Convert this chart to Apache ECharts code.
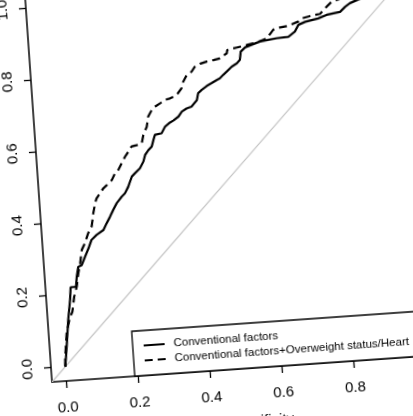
<!DOCTYPE html>
<html>
<head>
<meta charset="utf-8">
<script src="https://cdn.jsdelivr.net/npm/echarts@6/dist/echarts.min.js"></script>
<style>
html,body{margin:0;padding:0;width:413px;height:416px;overflow:hidden;background:#fff;}
#chart{position:absolute;left:-50px;top:-50px;width:520px;height:520px;transform:rotate(-4deg);transform-origin:102px 432px;}
</style>
</head>
<body>
<div id="chart"></div>
<script>
// Tick values (both axes)
const tickValues = [0, 0.2, 0.4, 0.6, 0.8, 1.0];
const xName = '1 - Specificity';
const yName = 'Sensitivity';
const seriesNames = ['Conventional factors', 'Conventional factors+Overweight status/Heart'];

// Conventional factors (solid)
const convFPR = [0,0.0075,0.017,0.026,0.030,0.045,0.049,0.055,0.065,0.076,0.087,0.097,0.112,0.132,0.142,0.153,0.163,0.174,0.189,0.199,0.209,0.221,0.230,0.245,0.256,0.262,0.272,0.282,0.288,0.293,0.312,0.323,0.337,0.347,0.362,0.372,0.386,0.400,0.416,0.421,0.431,0.446,0.460,0.475,0.484,0.494,0.504,0.519,0.534,0.543,0.547,0.560,0.602,0.649,0.682,0.701,0.712,0.731,0.768,0.792,0.830,0.845,0.859,0.878,0.92,0.96,1];
const convTPR = [0,0.055,0.129,0.184,0.219,0.219,0.247,0.274,0.278,0.301,0.323,0.346,0.359,0.371,0.389,0.407,0.425,0.443,0.460,0.469,0.486,0.514,0.522,0.535,0.553,0.571,0.584,0.593,0.611,0.625,0.628,0.646,0.656,0.661,0.671,0.684,0.692,0.696,0.713,0.732,0.740,0.750,0.757,0.765,0.769,0.778,0.786,0.799,0.807,0.816,0.839,0.850,0.863,0.869,0.871,0.884,0.902,0.909,0.916,0.924,0.930,0.943,0.952,0.959,0.975,0.99,1];

// Conventional factors + Overweight status/Heart (dashed)
const plusFPR = [0,0.001,0.010,0.022,0.030,0.038,0.047,0.054,0.061,0.068,0.078,0.089,0.100,0.107,0.114,0.119,0.130,0.140,0.150,0.165,0.175,0.185,0.195,0.206,0.216,0.226,0.241,0.255,0.261,0.272,0.278,0.289,0.299,0.313,0.328,0.342,0.361,0.376,0.382,0.393,0.407,0.417,0.432,0.451,0.470,0.488,0.508,0.510,0.537,0.565,0.598,0.622,0.641,0.651,0.684,0.712,0.722,0.746,0.774,0.794,0.809,0.85,0.9,1];
const plusTPR = [0,0.023,0.092,0.135,0.150,0.192,0.219,0.256,0.283,0.320,0.338,0.365,0.383,0.419,0.447,0.460,0.474,0.487,0.495,0.508,0.526,0.535,0.552,0.570,0.583,0.597,0.600,0.604,0.627,0.649,0.677,0.694,0.703,0.711,0.720,0.723,0.731,0.749,0.767,0.785,0.793,0.806,0.813,0.818,0.821,0.824,0.837,0.846,0.851,0.856,0.863,0.871,0.893,0.897,0.901,0.911,0.919,0.924,0.928,0.947,0.960,0.97,0.985,1];

// Reference diagonal (chance line) endpoints
const diagX = [-0.04, 1.04];
const diagY = [-0.04, 1.04];

const zip = (a, b) => a.map((v, i) => [v, b[i]]);
const font = 'Liberation Sans, Arial, Helvetica, sans-serif';

function axis(isY, name) {
  return {
    type: 'value', min: -0.04, max: 1.04,
    name: name, nameLocation: 'middle', nameGap: 46,
    nameTextStyle: {fontSize: 15, color: '#000', fontFamily: font},
    axisLine: {show: true, onZero: false, lineStyle: {color: '#000', width: 1.5}},
    axisTick: {show: true, customValues: tickValues, length: 7, lineStyle: {color: '#000', width: 1.3}},
    axisLabel: {customValues: tickValues, formatter: v => v.toFixed(1), margin: isY ? 16 : 19,
      fontSize: 15, color: '#000', fontFamily: font, rotate: isY ? 90 : 0},
    splitLine: {show: false}
  };
}

const chart = echarts.init(document.getElementById('chart'), null, {renderer: 'canvas'});
chart.setOption({
  animation: false,
  backgroundColor: '#fff',
  grid: {left: 102, top: 43.2, width: 388.8, height: 388.8},
  xAxis: axis(false, xName),
  yAxis: axis(true, yName),
  legend: {
    orient: 'vertical', left: 185, bottom: 88,
    itemWidth: 21, itemHeight: 14, itemGap: 3,
    padding: [9, 31, 9, 10],
    borderColor: '#000', borderWidth: 1.3, borderRadius: 0,
    backgroundColor: '#fff', selectedMode: false,
    itemStyle: {opacity: 0},
    textStyle: {fontSize: 11.5, color: '#000', fontFamily: font, padding: [0, 0, 0, 4]},
    data: seriesNames
  },
  series: [
    {name: 'diag', type: 'line', data: zip(diagX, diagY), symbol: 'none', silent: true,
     lineStyle: {color: '#c4c4c4', width: 1.2}, z: 1},
    {name: seriesNames[0], type: 'line', data: zip(convFPR, convTPR), symbol: 'none',
     lineStyle: {color: '#000', width: 2.2, type: 'solid'}, itemStyle: {color: '#000'}, z: 3},
    {name: seriesNames[1], type: 'line', data: zip(plusFPR, plusTPR), symbol: 'none',
     lineStyle: {color: '#000', width: 2.2, type: [8, 5]}, itemStyle: {color: '#000'}, z: 2}
  ]
});
</script>
</body>
</html>
